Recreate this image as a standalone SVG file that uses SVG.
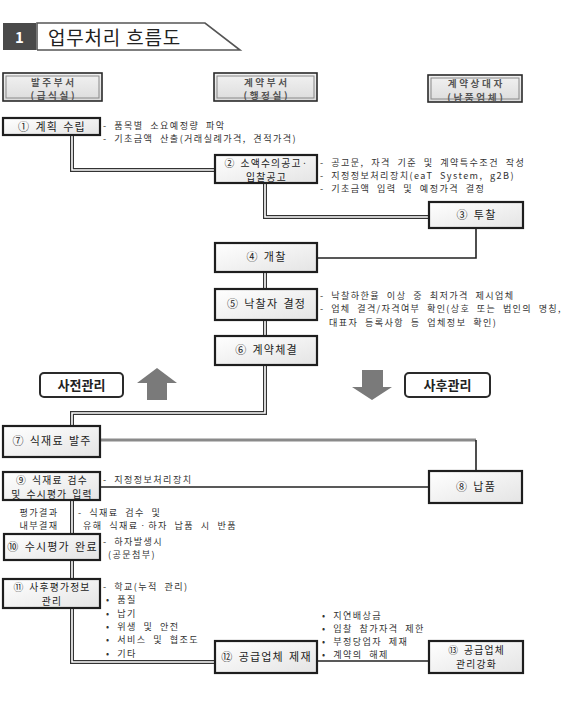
<svg xmlns="http://www.w3.org/2000/svg" width="564" height="706" viewBox="0 0 564 706">
<defs>
<linearGradient id="nodeFill" x1="0" y1="0" x2="1" y2="1">
<stop offset="0" stop-color="#ffffff"/>
<stop offset="1" stop-color="#e4e4e4"/>
</linearGradient>
<linearGradient id="headFill" x1="0" y1="0" x2="0" y2="1">
<stop offset="0" stop-color="#f2f2f2"/>
<stop offset="1" stop-color="#dcdcdc"/>
</linearGradient>
</defs>
<style>
text{font-family:"Noto Sans CJK KR","Noto Sans",sans-serif;fill:#222}
.node rect{fill:url(#nodeFill);stroke:#1e1e1e;stroke-width:2.2}
.node text{font-size:11px;text-anchor:middle;letter-spacing:1.2px;word-spacing:1.5px}
.node text.two{font-size:9.8px}
.head .outer{fill:url(#headFill);stroke:#2a2a2a;stroke-width:1.6}
.head .inner{fill:none;stroke:#888;stroke-width:1}
.head text{font-size:9.6px;font-weight:bold;fill:#555;text-anchor:middle;letter-spacing:2.6px}
.note{font-size:9.1px;fill:#333;letter-spacing:1.4px;word-spacing:3.3px}
.dblo{fill:none;stroke:#333;stroke-width:4}
.dbli{fill:none;stroke:#fff;stroke-width:1.6}
.single{fill:none;stroke:#222;stroke-width:1.6}
.grayl{fill:none;stroke:#8a8a8a;stroke-width:3}
.tag rect{fill:#fff;stroke:#2a2a2a;stroke-width:2}
.tag text{font-size:13px;font-weight:bold;text-anchor:middle;fill:#222}
.arrow{fill:#7a7a7a}
</style>
<rect width="564" height="706" fill="#ffffff"/>

<g id="title">
<path d="M37 50 L37 23 L205 23 L240 50 L37 50" fill="none" stroke="#555" stroke-width="1.6"/>
<rect x="3" y="23" width="33" height="27" fill="#4a4a4a"/>
<text x="19.5" y="43" font-size="15" font-weight="bold" text-anchor="middle" style="fill:#fff">1</text>
<text x="48" y="45" font-size="19" letter-spacing="0.8" style="fill:#222">업무처리 흐름도</text>
</g>

<g id="head-order" class="head">
<rect class="outer" x="3" y="73" width="99" height="28"/>
<rect class="inner" x="6" y="76" width="93" height="22"/>
<text x="53.8" y="85.5">발주부서</text>
<text x="53.8" y="99">(급식실)</text>
</g>
<g id="head-contract" class="head">
<rect class="outer" x="214" y="73" width="103" height="28"/>
<rect class="inner" x="217" y="76" width="97" height="22"/>
<text x="266.8" y="85.5">계약부서</text>
<text x="266.8" y="99">(행정실)</text>
</g>
<g id="head-vendor" class="head">
<rect class="outer" x="428" y="75" width="94" height="27"/>
<rect class="inner" x="431" y="78" width="88" height="21"/>
<text x="476.3" y="87">계약상대자</text>
<text x="476.3" y="100.5">(납품업체)</text>
</g>

<g id="connectors">
<path class="dblo" d="M72 135 V170 H214"/>
<path class="dbli" d="M72 135 V170 H214"/>
<path class="dblo" d="M265 183 V217 H430"/>
<path class="dbli" d="M265 183 V217 H430"/>
<path class="single" d="M476 228 V258 H317"/>
<path class="dblo" d="M265 272 V289"/>
<path class="dbli" d="M265 272 V289"/>
<path class="dblo" d="M265 320 V336"/>
<path class="dbli" d="M265 320 V336"/>
<path class="dblo" d="M265 365 V413 H72 V426"/>
<path class="dbli" d="M265 365 V413 H72 V426"/>
<path class="grayl" d="M100 440 H476"/>
<path class="single" d="M476 440 V471"/>
<path class="single" d="M100 487 H429"/>
<path class="dblo" d="M72 500 V534"/>
<path class="dbli" d="M72 500 V534"/>
<path class="dblo" d="M72 560 V579"/>
<path class="dbli" d="M72 560 V579"/>
<path class="dblo" d="M72 608 V662 H215"/>
<path class="dbli" d="M72 608 V662 H215"/>
<path class="single" d="M317 661 H429"/>
</g>

<g id="n1" class="node">
<rect x="3" y="118" width="97" height="17"/>
<text x="52" y="131">① 계획 수립</text>
</g>
<g id="n1-notes">
<text class="note" x="103" y="128.5">- 품목별 소요예정량 파악</text>
<text class="note" x="103" y="141.8">- 기초금액 산출(거래실례가격, 견적가격)</text>
</g>

<g id="n2" class="node">
<rect x="215" y="155" width="102" height="28"/>
<text class="two" x="266.5" y="167">② 소액수의공고·</text>
<text class="two" x="266.5" y="181.2">입찰공고</text>
</g>
<g id="n2-notes">
<text class="note" x="320" y="165.5">- 공고문, 자격 기준 및 계약특수조건 작성</text>
<text class="note" x="320" y="178.8">- 지정정보처리장치(eaT System, g2B)</text>
<text class="note" x="320" y="192.1">- 기초금액 입력 및 예정가격 결정</text>
</g>

<g id="n3" class="node">
<rect x="429" y="202" width="94" height="26"/>
<text x="476.5" y="219">③ 투찰</text>
</g>

<g id="n4" class="node">
<rect x="215" y="243" width="102" height="29"/>
<text x="266.5" y="261">④ 개찰</text>
</g>

<g id="n5" class="node">
<rect x="215" y="289" width="102" height="31"/>
<text x="266.5" y="308">⑤ 낙찰자 결정</text>
</g>
<g id="n5-notes">
<text class="note" x="320" y="299">- 낙찰하한율 이상 중 최저가격 제시업체</text>
<text class="note" x="320" y="312.3" textLength="242" lengthAdjust="spacing">- 업체 결격/자격여부 확인(상호 또는 법인의 명칭,</text>
<text class="note" x="329" y="325.6">대표자 등록사항 등 업체정보 확인)</text>
</g>

<g id="n6" class="node">
<rect x="215" y="336" width="102" height="29"/>
<text x="266.5" y="354">⑥ 계약체결</text>
</g>

<g id="pre" class="tag">
<rect x="40" y="373" width="83" height="24" rx="4"/>
<text x="81.5" y="390">사전관리</text>
</g>
<polygon id="arrow-up" class="arrow" points="157,368 177,383 167,383 167,400 147,400 147,383 137,383"/>
<polygon id="arrow-down" class="arrow" points="362,370 383,370 383,387 392,387 372,400 352,387 362,387"/>
<g id="post" class="tag">
<rect x="405" y="373" width="85" height="24" rx="4"/>
<text x="447.5" y="390">사후관리</text>
</g>

<g id="n7" class="node">
<rect x="3" y="426" width="97" height="31"/>
<text x="52" y="445">⑦ 식재료 발주</text>
</g>

<g id="n8" class="node">
<rect x="429" y="471" width="93" height="32"/>
<text x="476" y="491">⑧ 납품</text>
</g>

<g id="n9" class="node">
<rect x="3" y="472" width="97" height="28"/>
<text class="two" x="52" y="484">⑨ 식재료 검수</text>
<text class="two" x="52" y="498.2">및 수시평가 입력</text>
</g>
<g id="n9-notes">
<text class="note" x="103" y="483">- 지정정보처리장치</text>
<text class="note" x="39" y="515.5" text-anchor="middle">평가결과</text>
<text class="note" x="39" y="529" text-anchor="middle">내부결재</text>
<text class="note" x="78" y="515.5">- 식재료 검수 및</text>
<text class="note" x="83" y="529">유해 식재료ㆍ하자 납품 시 반품</text>
</g>

<g id="n10" class="node">
<rect x="4" y="534" width="96" height="26"/>
<text x="52.5" y="551">⑩ 수시평가 완료</text>
</g>
<g id="n10-notes">
<text class="note" x="103" y="545">- 하자발생시</text>
<text class="note" x="108" y="558.3">(공문첨부)</text>
</g>

<g id="n11" class="node">
<rect x="3" y="579" width="97" height="29"/>
<text class="two" x="52" y="591">⑪ 사후평가정보</text>
<text class="two" x="52" y="605.2">관리</text>
</g>
<g id="n11-notes">
<text class="note" x="103" y="590">- 학교(누적 관리)</text>
<text class="note" x="106" y="603.3">• 품질</text>
<text class="note" x="106" y="616.6">• 납기</text>
<text class="note" x="106" y="629.9">• 위생 및 안전</text>
<text class="note" x="106" y="643.2">• 서비스 및 협조도</text>
<text class="note" x="106" y="656.5">• 기타</text>
</g>

<g id="n12" class="node">
<rect x="215" y="641" width="102" height="32"/>
<text x="266.5" y="661">⑫ 공급업체 제재</text>
</g>
<g id="n12-notes">
<text class="note" x="322" y="618.5">• 지연배상금</text>
<text class="note" x="322" y="631.7">• 입찰 참가자격 제한</text>
<text class="note" x="322" y="644.9">• 부정당업자 제재</text>
<text class="note" x="322" y="658.1">• 계약의 해제</text>
</g>

<g id="n13" class="node">
<rect x="429" y="641" width="94" height="32"/>
<text class="two" x="476.5" y="654">⑬ 공급업체</text>
<text class="two" x="476.5" y="668.2">관리강화</text>
</g>
</svg>
